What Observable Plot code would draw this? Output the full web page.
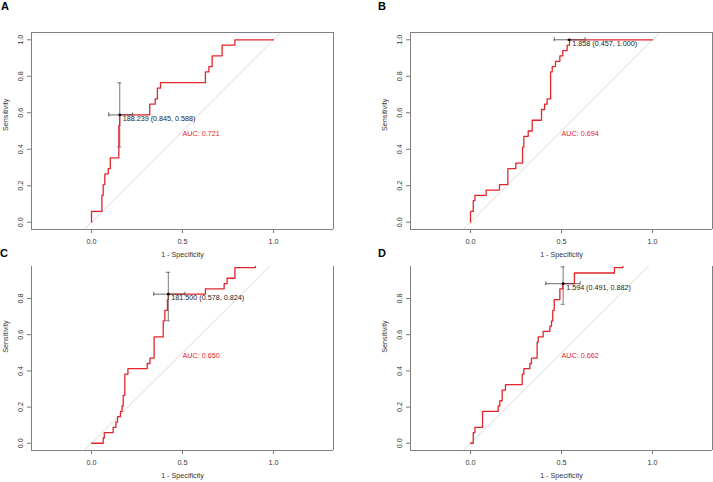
<!DOCTYPE html>
<html><head><meta charset="utf-8">
<script src="https://cdn.jsdelivr.net/npm/d3@7"></script>
<script src="https://cdn.jsdelivr.net/npm/@observablehq/plot@0.6"></script>
<style>
body{margin:0;background:#fff;}
#wrap{position:relative;width:713px;height:482px;overflow:hidden;background:#fff;}
.panel{position:absolute;}
.letter{position:absolute;font:bold 11px "Liberation Sans",Arial,sans-serif;color:#000;line-height:11px;}
</style></head><body><div id="wrap"></div>
<script>
// ---- data ----
const panelLetters = ["A", "B", "C", "D"];
const xTicks = [0, 0.5, 1];
const yTicks = [0, 0.2, 0.4, 0.6, 0.8, 1];
const diagonal = [-0.2, 1.2];

// ROC corners (1 - specificity, sensitivity), step-after
const fprA  = [0, 0, 0.057, 0.064, 0.073, 0.092, 0.103, 0.150, 0.155, 0.320, 0.350, 0.362, 0.379, 0.626, 0.645, 0.663, 0.718, 0.788, 1];
const sensA = [0, 0.059, 0.147, 0.206, 0.265, 0.294, 0.353, 0.529, 0.588, 0.647, 0.676, 0.735, 0.765, 0.824, 0.853, 0.912, 0.971, 1, 1];

const fprB  = [0, 0, 0.015, 0.024, 0.086, 0.159, 0.205, 0.249, 0.286, 0.293, 0.317, 0.339, 0.390, 0.407, 0.421, 0.440, 0.449, 0.467, 0.491, 0.507, 0.531, 0.544, 1];
const sensB = [0, 0.059, 0.118, 0.147, 0.176, 0.206, 0.294, 0.324, 0.412, 0.471, 0.500, 0.559, 0.618, 0.647, 0.676, 0.824, 0.853, 0.882, 0.912, 0.941, 0.971, 1, 1];

const fprC  = [0, 0.064, 0.070, 0.119, 0.134, 0.143, 0.159, 0.168, 0.174, 0.183, 0.200, 0.306, 0.321, 0.344, 0.394, 0.403, 0.417, 0.422, 0.626, 0.729, 0.745, 0.788, 0.901, 1];
const sensC = [0, 0.029, 0.059, 0.088, 0.118, 0.147, 0.176, 0.206, 0.265, 0.382, 0.412, 0.441, 0.471, 0.588, 0.676, 0.735, 0.794, 0.824, 0.853, 0.882, 0.912, 0.971, 1, 1];

const fprD  = [0, 0.015, 0.024, 0.066, 0.152, 0.161, 0.174, 0.192, 0.284, 0.293, 0.326, 0.335, 0.366, 0.372, 0.399, 0.436, 0.445, 0.452, 0.460, 0.491, 0.507, 0.571, 0.791, 0.837, 1];
const sensD = [0, 0.059, 0.088, 0.176, 0.206, 0.235, 0.294, 0.324, 0.382, 0.412, 0.441, 0.471, 0.559, 0.588, 0.618, 0.647, 0.676, 0.735, 0.794, 0.853, 0.882, 0.941, 0.971, 1, 1];

const fprs = [fprA, fprB, fprC, fprD];
const senss = [sensA, sensB, sensC, sensD];

// best thresholds and confidence intervals
const thresholds  = [188.239, 1.858, 181.500, 1.594];
const thrSpec     = [0.845, 0.457, 0.578, 0.491];
const thrSens     = [0.588, 1.000, 0.824, 0.882];
const fprCiLo     = [0.095, 0.460, 0.342, 0.414];
const fprCiHi     = [0.226, 0.630, 0.513, 0.602];
const sensCiLo    = [0.413, 1.000, 0.677, 0.768];
const sensCiHi    = [0.764, 1.000, 0.945, 0.975];
const aucs        = [0.721, 0.694, 0.650, 0.662];

// ---- layout ----
const xDomain = [-0.33, 1.33];
const layout = [
  {left: 0,   top: 0,   width: 356, height: 262, mL: 31, mR: 23, mT: 32, mB: 33, yDomain: [-0.04, 1.04], topBorder: true,  letter: [1, 1]},
  {left: 356, top: 0,   width: 357, height: 262, mL: 54, mR: 1,  mT: 32, mB: 33, yDomain: [-0.04, 1.04], topBorder: true,  letter: [378, 1]},
  {left: 0,   top: 262, width: 356, height: 220, mL: 31, mR: 23, mT: 4,  mB: 32, yDomain: [-0.04, 0.977], topBorder: false, letter: [0, 248]},
  {left: 356, top: 262, width: 357, height: 220, mL: 54, mR: 1,  mT: 4,  mB: 32, yDomain: [-0.04, 0.977], topBorder: false, letter: [378, 248]}
];

const red = "#e3262b";
const fmt3 = d3.format(".3f");
const wrap = document.getElementById("wrap");

panelLetters.forEach((letter, i) => {
  const L = layout[i];
  const pts = fprs[i].map((f, j) => ({fpr: f, sens: senss[i][j]}));
  const thr = {
    x: 1 - thrSpec[i], y: thrSens[i],
    xlo: fprCiLo[i], xhi: fprCiHi[i], ylo: sensCiLo[i], yhi: sensCiHi[i],
    label: `${fmt3(thresholds[i])} (${fmt3(thrSpec[i])}, ${fmt3(thrSens[i])})`
  };
  const frameX = xDomain;
  const frameY = L.topBorder ? L.yDomain : [L.yDomain[0]];
  const plot = Plot.plot({
    width: L.width, height: L.height,
    marginLeft: L.mL, marginRight: L.mR, marginTop: L.mT, marginBottom: L.mB,
    style: {background: "transparent", fontFamily: "'Liberation Sans', Arial, sans-serif", fontSize: "7.2px", color: "#333", overflow: "visible"},
    x: {domain: xDomain},
    y: {domain: L.yDomain},
    marks: [
      Plot.line(diagonal, {x: d => d, y: d => d, stroke: "#d0d0d0", strokeWidth: 0.8, clip: true}),
      Plot.axisX({ticks: xTicks, tickFormat: d3.format(".1f"), tickSize: 4, tickPadding: 5, stroke: "#777", fill: "#333", label: null}),
      Plot.axisY({ticks: yTicks.filter(t => t <= L.yDomain[1]), tickFormat: d3.format(".1f"), tickRotate: -90, tickSize: 4, tickPadding: 5, stroke: "#777", fill: "#333", label: null}),
      Plot.ruleX(frameX, {stroke: "#808080", strokeWidth: 1}),
      Plot.ruleY(frameY, {stroke: "#808080", strokeWidth: 1}),
      Plot.line(pts, {x: "fpr", y: "sens", curve: "step-after", stroke: red, strokeWidth: 1.3, clip: true}),
      // CI bars
      Plot.ruleY([thr], {y: "y", x1: "xlo", x2: "xhi", stroke: "#444", strokeWidth: 0.8}),
      Plot.ruleX([thr], {x: "x", y1: "ylo", y2: "yhi", stroke: "#555", strokeWidth: 0.8}),
      Plot.ruleX([thr, thr], {x: (d, k) => k === 0 ? d.xlo : d.xhi, y1: "y", y2: "y", insetTop: -2, insetBottom: -2, stroke: "#444", strokeWidth: 0.8}),
      Plot.ruleY([thr, thr], {y: (d, k) => k === 0 ? d.ylo : d.yhi, x1: "x", x2: "x", insetLeft: -2, insetRight: -2, stroke: "#555", strokeWidth: 0.8}),
      Plot.dot([thr], {x: "x", y: "y", r: 1.4, fill: "#000", stroke: null}),
      Plot.text([thr], {x: "x", y: "y", text: "label", textAnchor: "start", lineAnchor: "top", dx: 3, dy: 1, fill: "#222"}),
      Plot.text([{x: 0.5, y: 0.5, t: `AUC: ${fmt3(aucs[i])}`}], {x: "x", y: "y", text: "t", textAnchor: "start", lineAnchor: "top", fill: red}),
      Plot.text([{y: 0.5, t: "Sensitivity"}], {y: "y", text: "t", frameAnchor: "left", rotate: -90, dx: -26, fill: "#333"}),
      Plot.text([{x: 0.5, t: "1 - Specificity"}], {x: "x", text: "t", frameAnchor: "bottom", dy: 27, fill: "#333"})
    ]
  });
  const div = document.createElement("div");
  div.className = "panel";
  div.style.left = L.left + "px";
  div.style.top = L.top + "px";
  div.appendChild(plot);
  wrap.appendChild(div);
  const lab = document.createElement("div");
  lab.className = "letter";
  lab.style.left = L.letter[0] + "px";
  lab.style.top = L.letter[1] + "px";
  lab.textContent = letter;
  wrap.appendChild(lab);
});
</script>
</body></html>
